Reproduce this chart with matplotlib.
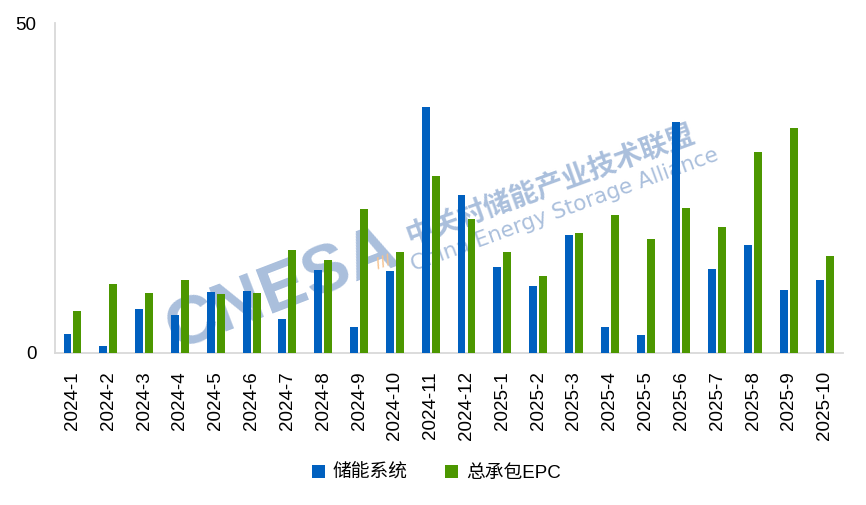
import numpy as np
import matplotlib.pyplot as plt

plt.rcParams['font.family'] = ['Liberation Sans', 'Noto Sans CJK SC', 'DejaVu Sans']

months = ['2024-1', '2024-2', '2024-3', '2024-4', '2024-5', '2024-6', '2024-7', '2024-8',
          '2024-9', '2024-10', '2024-11', '2024-12', '2025-1', '2025-2', '2025-3', '2025-4',
          '2025-5', '2025-6', '2025-7', '2025-8', '2025-9', '2025-10']
storage_system = [2.9, 1.1, 6.7, 5.8, 9.2, 9.4, 5.2, 12.6, 3.9, 12.4, 37.3, 24.0,
                  13.0, 10.2, 17.9, 3.9, 2.7, 35.0, 12.7, 16.4, 9.6, 11.1]
epc = [6.4, 10.5, 9.1, 11.1, 8.9, 9.1, 15.6, 14.1, 21.8, 15.3, 26.9, 20.3,
       15.3, 11.7, 18.2, 20.9, 17.3, 22.0, 19.1, 30.5, 34.1, 14.7]

blue = '#0060BF'
green = '#4C9700'
wm = '#AABFDC'

fig = plt.figure(figsize=(8.66, 5.05), dpi=100)
ax = fig.add_axes([0.063, 0.301, 0.910, 0.653])

x = np.arange(len(months))
w = 0.222
ax.bar(x - 0.139, storage_system, w, color=blue, label='储能系统', zorder=3)
ax.bar(x + 0.139, epc, w, color=green, label='总承包EPC', zorder=3)

ax.set_xlim(-0.5, len(months) - 0.5)
ax.set_ylim(0, 50)
ax.set_yticks([0, 50])
ax.set_xticks(x)
ax.set_xticklabels(months, rotation=90)
ax.tick_params(length=0, labelsize=13.5, pad=13)

for s in ['top', 'right']:
    ax.spines[s].set_visible(False)
for s in ['left', 'bottom']:
    ax.spines[s].set_color('#D9D9D9')
    ax.spines[s].set_linewidth(1.3)

# watermark, behind the bars
fig.text(0.326, 0.425, 'CNESA', fontsize=50, fontweight='bold', color=wm,
         rotation=21, ha='center', va='center', zorder=0, family='Liberation Sans')
fig.text(0.443, 0.482, '///', fontsize=10, fontweight='bold', color='#F6C28E',
         rotation=21, ha='center', va='center', zorder=0, family='DejaVu Sans')
fig.text(0.635, 0.635, '中关村储能产业技术联盟', fontsize=20, fontweight='bold', color=wm,
         rotation=20, ha='center', va='center', zorder=0, family='Noto Sans CJK SC')
fig.text(0.652, 0.585, 'China Energy Storage Alliance', fontsize=15.5, color=wm,
         rotation=20, ha='center', va='center', zorder=0, family='DejaVu Sans')
ax.set_zorder(1)
ax.patch.set_alpha(0)

fig.legend(loc='center', bbox_to_anchor=(0.504, 0.063), ncol=2, frameon=False,
           fontsize=13.5, handlelength=0.7, handleheight=0.7, handletextpad=0.4,
           columnspacing=2.0)

fig.savefig('out.png', dpi=100)
